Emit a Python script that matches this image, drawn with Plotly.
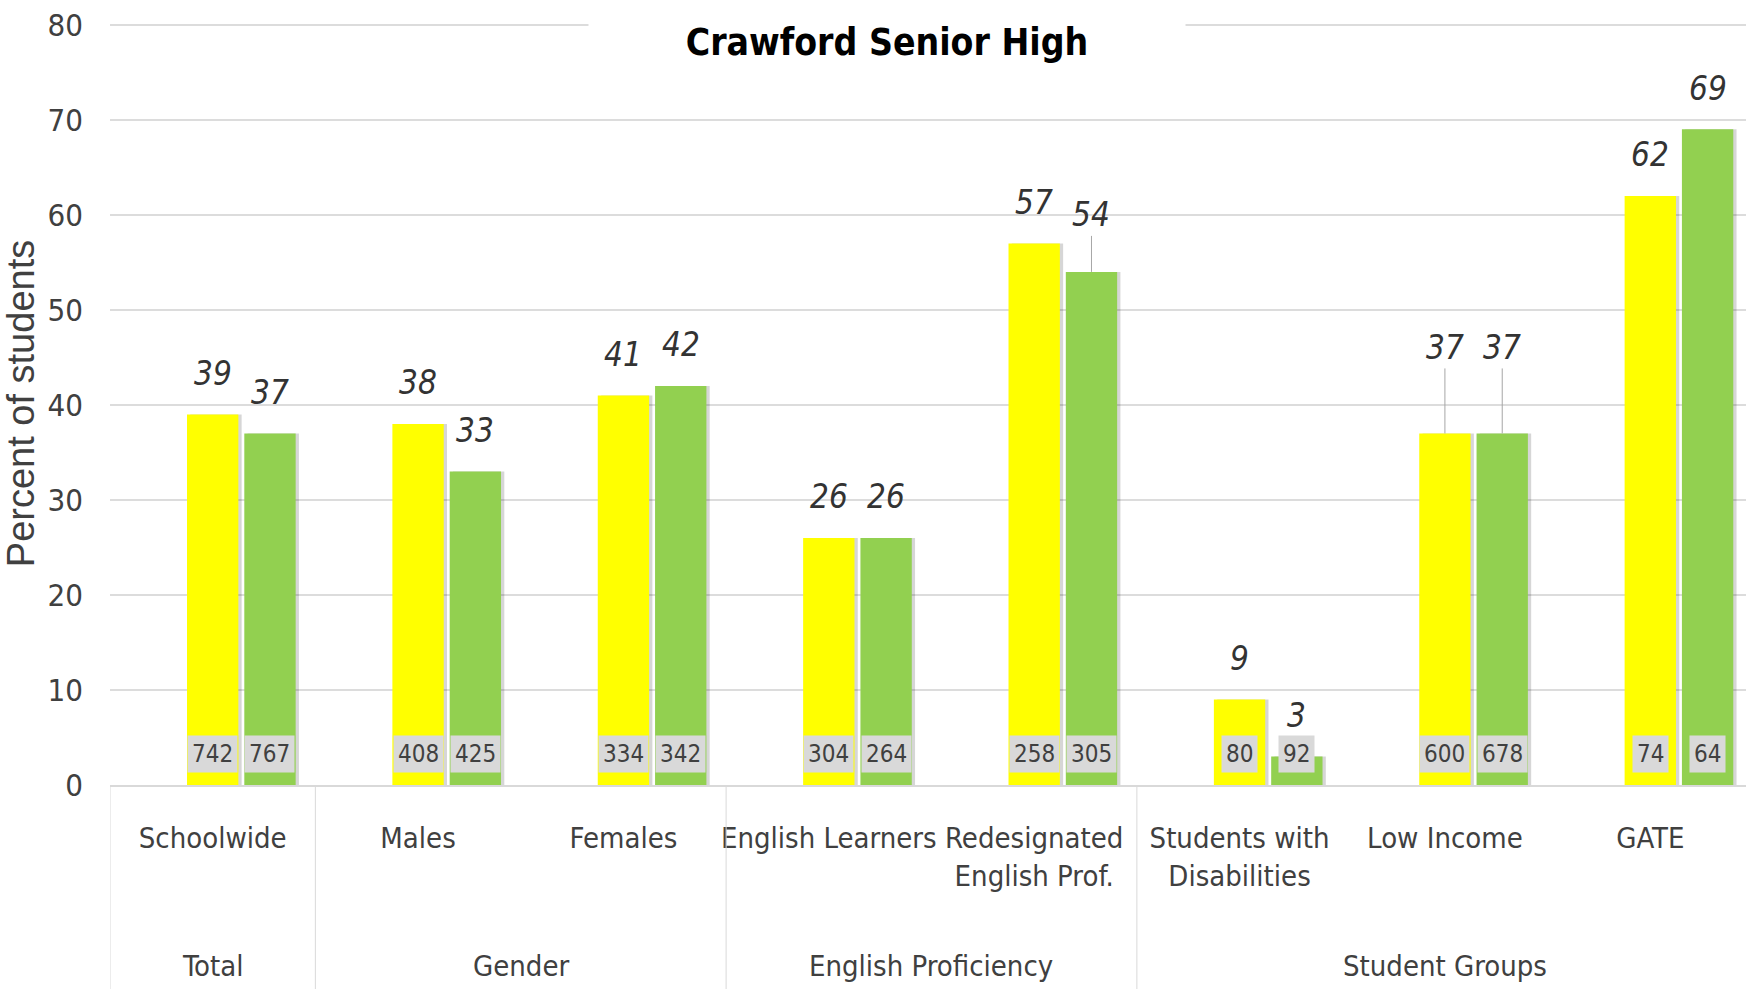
import plotly.graph_objects as go

# ---------------- data ----------------
groups = ["Total", "Gender", "Gender", "English Proficiency", "English Proficiency",
          "Student Groups", "Student Groups", "Student Groups"]
subgroups = ["Schoolwide", "Males", "Females", "English Learners",
             "Redesignated<br>English Prof.", "Students with<br>Disabilities",
             "Low Income", "GATE"]
pct_yellow = [39, 38, 41, 26, 57, 9, 37, 62]
pct_green = [37, 33, 42, 26, 54, 3, 37, 69]
n_yellow = [742, 408, 334, 304, 258, 80, 600, 74]
n_green = [767, 425, 342, 264, 305, 92, 678, 64]
y_ticks = [0, 10, 20, 30, 40, 50, 60, 70, 80]
title_text = "Crawford Senior High"
y_title = "Percent of students"

# ---------------- style ----------------
W, H = 1746, 989
M_L, M_R, M_T, M_B = 110, 0, 22, 204
X_RANGE = [-0.5, 7.466]
Y_RANGE = [0, 80.3]
BAR_W = 0.25          # bar width in category units
SLOT = 0.279          # distance between the two bar centres
SHADOW = 0.016        # shadow shift to the right
NARROW = "DejaVu Sans Condensed, Liberation Sans Narrow, sans-serif"
REGULAR = "Liberation Sans, Arial, sans-serif"
TXT = "#404040"
LEADER = {("g", 4): 57, ("y", 6): 86, ("g", 6): 86}   # labels pulled up with leader lines
LIFT = 41
GROUP_LABEL_DROP = 181
DIVIDER = "#d9d9d9"

series = [
    ("y", "Series 1", pct_yellow, n_yellow, "#FFFF00", 0.0),
    ("g", "Series 2", pct_green, n_green, "#92D050", SLOT),
]

fig = go.Figure()

# soft shadows
for key, name, vals, ns, col, ctr in series:
    fig.add_trace(go.Bar(x=subgroups, y=vals, width=BAR_W, offset=ctr - BAR_W / 2 + SHADOW,
                         marker=dict(color="rgba(0,0,0,0.16)", line=dict(width=0)),
                         showlegend=False, hoverinfo="skip"))
for key, name, vals, ns, col, ctr in series:
    fig.add_trace(go.Bar(x=subgroups, y=vals, name=name, width=BAR_W, offset=ctr - BAR_W / 2,
                         marker=dict(color=col, line=dict(width=0)), showlegend=False))

ann = []
for key, name, vals, ns, col, ctr in series:
    for i, (v, n) in enumerate(zip(vals, ns)):
        lift = LEADER.get((key, i), LIFT)
        lead = (key, i) in LEADER
        ann.append(dict(xref="x", yref="y", x=i + ctr, y=v, text=f"<i>{v}</i>",
                        showarrow=True, ax=0, ay=-lift, arrowhead=0, arrowwidth=1,
                        standoff=0, startstandoff=0, xanchor="center",
                        arrowcolor="#a6a6a6" if lead else "rgba(0,0,0,0)",
                        font=dict(family=NARROW, size=33, color="#333333")))
        ann.append(dict(xref="x", yref="y", x=i + ctr, y=0, xanchor="center",
                        yanchor="bottom", yshift=12,
                        text=str(n), showarrow=False, bgcolor="#d9d9d9", borderpad=4,
                        font=dict(family=NARROW, size=24, color=TXT)))

# group labels + dividers derived from the group list
shapes = []
bounds = [0]
for i in range(1, len(groups)):
    if groups[i] != groups[i - 1]:
        bounds.append(i)
bounds.append(len(groups))
plot_h = H - M_T - M_B
for a, b in zip(bounds[:-1], bounds[1:]):
    ann.append(dict(xref="x", yref="paper", x=(a + b - 1) / 2, y=0, yshift=-GROUP_LABEL_DROP,
                    xanchor="center", yanchor="middle", text=groups[a], showarrow=False,
                    font=dict(family=NARROW, size=29, color=TXT)))
for bnd in bounds:
    shapes.append(dict(type="line", xref="x", yref="paper", x0=bnd - 0.5, x1=bnd - 0.5,
                       y0=0, y1=-M_B / plot_h, line=dict(color=DIVIDER, width=1)))

ann.append(dict(xref="paper", yref="paper", x=(887 - M_L) / (W - M_L - M_R), y=1,
                xanchor="center", yanchor="middle", yshift=-20,
                text=f"<b>{title_text}</b>", showarrow=False,
                bgcolor="white", width=594, height=66,
                font=dict(family=NARROW, size=37, color="#000000")))

fig.update_layout(
    width=W, height=H,
    margin=dict(l=M_L, r=M_R, t=M_T, b=M_B, autoexpand=False),
    paper_bgcolor="white", plot_bgcolor="white",
    barmode="overlay",
    annotations=ann,
    shapes=shapes,
    showlegend=False,
)
fig.update_yaxes(range=Y_RANGE, tickvals=y_ticks, showgrid=True, gridcolor="#dcdcdc",
                 gridwidth=2, zeroline=False, showline=False, ticks="",
                 ticklabelstandoff=26, automargin=False,
                 tickfont=dict(family=NARROW, size=31, color=TXT),
                 title=dict(text=y_title, standoff=14,
                            font=dict(family=REGULAR, size=38, color=TXT)))
fig.update_xaxes(type="category", range=X_RANGE,
                 showline=True, linecolor="#d9d9d9", linewidth=2, showgrid=False,
                 ticks="", tickangle=0, ticklabelstandoff=26, automargin=False,
                 tickfont=dict(family=NARROW, size=29, color=TXT))

fig.write_html("out.html", config={"displayModeBar": False},
               post_script="document.body.style.margin='0';document.body.style.overflow='hidden';")
